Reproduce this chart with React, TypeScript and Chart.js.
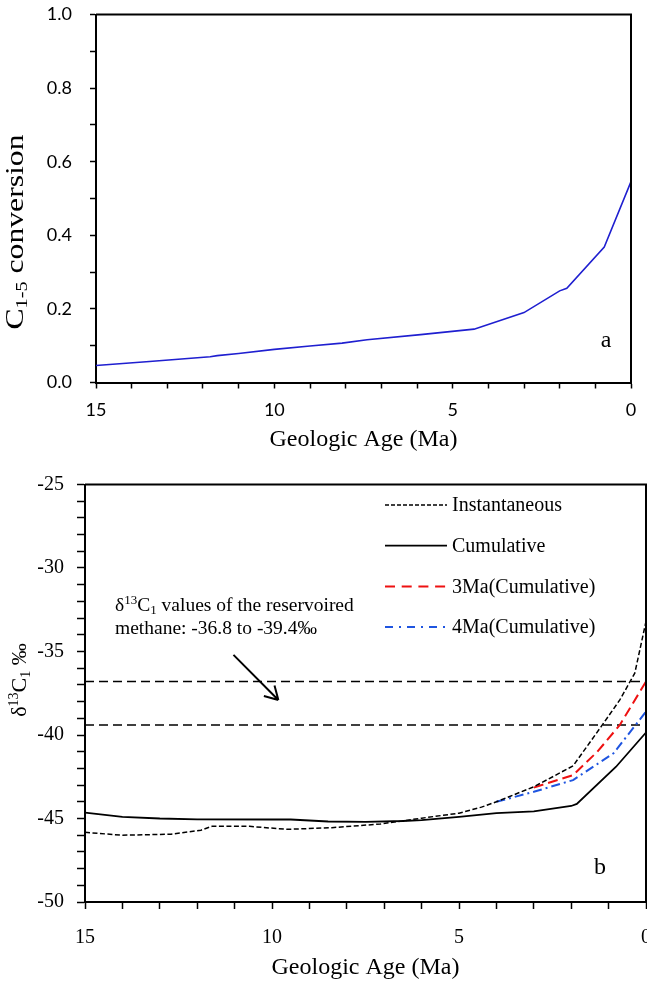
import React, { useEffect, useRef } from 'react';
import { Chart, registerables } from 'chart.js';

Chart.register(...registerables);

const SERIF = '"Liberation Serif", "Times New Roman", Times, serif';
const SANS = 'Lato, "Open Sans", sans-serif';

// ---------- Panel a : C1-5 conversion ----------
const topAges = [15, 13.5, 11.8, 11.6, 11, 10, 9, 8.1, 7.4, 5.9, 4.4, 3.0, 2.0, 1.8, 0.75, 0];
const topConversion = [0.046, 0.057, 0.070, 0.073, 0.079, 0.090, 0.099, 0.107, 0.116, 0.130, 0.145, 0.190, 0.249, 0.256, 0.368, 0.546];

// ---------- Panel b : delta13C1 ----------
const instAges = [15, 14, 12.7, 11.9, 11.6, 10.6, 9.6, 8.4, 7.1, 6.0, 5.0, 4.4, 4.0, 3.0, 1.95, 1.2, 0.7, 0.3, 0];
const instDelta = [-45.83, -46.0, -45.94, -45.7, -45.46, -45.47, -45.65, -45.55, -45.33, -44.98, -44.68, -44.32, -44.0, -43.1, -41.85, -39.5, -37.9, -36.3, -33.2];

const cumAges = [15, 14, 13, 12, 10, 9.5, 8.5, 7.5, 6.5, 6.0, 5.0, 4.0, 3.0, 2.0, 1.85, 0.8, 0];
const cumDelta = [-44.65, -44.9, -45.0, -45.05, -45.06, -45.06, -45.18, -45.2, -45.15, -45.1, -44.9, -44.68, -44.57, -44.25, -44.13, -41.9, -39.85];

const ma3Ages = [3.0, 1.95, 1.3, 0.7, 0];
const ma3Delta = [-43.15, -42.4, -41.0, -39.4, -36.8];

const ma4Ages = [4.0, 3.0, 1.95, 0.87, 0];
const ma4Delta = [-44.0, -43.4, -42.7, -41.1, -38.6];

const reservoirRange = [-36.8, -39.4];
const ageRange = [15, 0];

const legendLabels = ['Instantaneous', 'Cumulative', '3Ma(Cumulative)', '4Ma(Cumulative)'];
const annotationLine2 = 'methane: -36.8 to -39.4‰';
const arrowFrom = [11.03, -35.2];
const arrowTo = [9.83, -37.9];

// ---------- styles ----------
const lineStyles = [
  { color: '#000000', width: 1.5, dash: [5, 2.5], legendDash: [4, 2] },
  { color: '#000000', width: 1.8, dash: [], legendDash: [] },
  { color: '#ee1111', width: 2, dash: [10, 5], legendDash: [10, 6.7] },
  { color: '#1f55e0', width: 2, dash: [9, 4, 2, 4], legendDash: [8, 6, 2, 6] },
];

type Seg = [string, 'n' | 'sup' | 'sub'];

function segFont(size: number, k: string) {
  return `${k === 'n' ? size : Math.round(size * 0.65)}px ${SERIF}`;
}
function richWidth(ctx: CanvasRenderingContext2D, segs: Seg[], size: number) {
  let w = 0;
  for (const [t, k] of segs) {
    ctx.font = segFont(size, k);
    w += ctx.measureText(t).width;
  }
  return w;
}
function drawRich(ctx: CanvasRenderingContext2D, segs: Seg[], x: number, y: number, size: number) {
  let cx = x;
  ctx.textAlign = 'left';
  ctx.textBaseline = 'alphabetic';
  for (const [t, k] of segs) {
    ctx.font = segFont(size, k);
    const dy = k === 'sup' ? -size * 0.38 : k === 'sub' ? size * 0.17 : 0;
    ctx.fillText(t, cx, y + dy);
    cx += ctx.measureText(t).width;
  }
}

const pts = (xs: number[], ys: number[]) => xs.map((x, i) => ({ x, y: ys[i] }));

function ageAxis(font: any, tickLength: number, padding: number, height: number, titlePad: number) {
  return {
    type: 'linear',
    min: ageRange[1],
    max: ageRange[0],
    reverse: true,
    ticks: {
      stepSize: 1,
      autoSkip: false,
      maxRotation: 0,
      padding,
      color: '#000',
      font,
      callback: (v: any) => (Number(v) % 5 === 0 ? String(v) : ''),
    },
    grid: { drawOnChartArea: false, drawTicks: true, tickLength, tickColor: '#000', tickWidth: 1.5, color: '#000' },
    border: { display: true, color: '#000', width: 2 },
    title: {
      display: true,
      text: 'Geologic Age (Ma)',
      color: '#000',
      font: { family: SERIF, size: 24, lineHeight: 1 },
      padding: { top: 0, bottom: titlePad },
    },
    afterFit: (s: any) => {
      s.height = height;
      s.paddingLeft = 0;
      s.paddingRight = 0;
    },
  };
}

const topDecor = {
  id: 'topDecor',
  afterDraw(chart: any) {
    const { ctx, chartArea: ca } = chart;
    ctx.save();
    ctx.strokeStyle = '#000';
    ctx.lineWidth = 2;
    ctx.beginPath();
    ctx.moveTo(ca.left, ca.top);
    ctx.lineTo(ca.right, ca.top);
    ctx.lineTo(ca.right, ca.bottom);
    ctx.stroke();

    ctx.fillStyle = '#000';
    ctx.font = `24px ${SERIF}`;
    ctx.textAlign = 'center';
    ctx.textBaseline = 'alphabetic';
    ctx.fillText('a', ca.right - 25, ca.bottom - 36);

    const segs: Seg[] = [['C', 'n'], ['1-5', 'sub'], [' conversion', 'n']];
    const w = richWidth(ctx, segs, 25);
    const stretch = 195 / w;
    ctx.translate(23, 232);
    ctx.rotate(-Math.PI / 2);
    ctx.scale(stretch, 1);
    drawRich(ctx, segs, -w / 2, 0, 25);
    ctx.restore();
  },
};

const bottomDecor = {
  id: 'bottomDecor',
  afterDraw(chart: any) {
    const { ctx, chartArea: ca, scales } = chart;
    const xs = scales.x;
    const ys = scales.y;
    ctx.save();
    ctx.strokeStyle = '#000';
    ctx.lineWidth = 2;
    ctx.beginPath();
    ctx.moveTo(ca.left, ca.top);
    ctx.lineTo(ca.right, ca.top);
    ctx.lineTo(ca.right, ca.bottom);
    ctx.stroke();

    // legend
    legendLabels.forEach((label, i) => {
      const st = lineStyles[i];
      const y = ca.top + 20.5 + i * 40.7;
      const x0 = ca.left + 300;
      ctx.save();
      ctx.strokeStyle = st.color;
      ctx.lineWidth = st.width;
      ctx.setLineDash(st.legendDash);
      ctx.beginPath();
      ctx.moveTo(x0, y);
      ctx.lineTo(x0 + 62, y);
      ctx.stroke();
      ctx.restore();
      ctx.fillStyle = '#000';
      ctx.font = `20px ${SERIF}`;
      ctx.textAlign = 'left';
      ctx.textBaseline = 'middle';
      ctx.fillText(label, x0 + 67, y + 1);
    });

    // annotation
    ctx.fillStyle = '#000';
    const line1: Seg[] = [['δ', 'n'], ['13', 'sup'], ['C', 'n'], ['1', 'sub'], [' values of the reservoired', 'n']];
    drawRich(ctx, line1, ca.left + 30, ca.top + 126.5, 19.5);
    drawRich(ctx, [[annotationLine2, 'n']], ca.left + 30, ca.top + 149.5, 19.5);

    // arrow
    const x1 = xs.getPixelForValue(arrowFrom[0]);
    const y1 = ys.getPixelForValue(arrowFrom[1]);
    const x2 = xs.getPixelForValue(arrowTo[0]);
    const y2 = ys.getPixelForValue(arrowTo[1]);
    const ang = Math.atan2(y2 - y1, x2 - x1);
    ctx.strokeStyle = '#000';
    ctx.lineWidth = 2;
    ctx.setLineDash([]);
    ctx.beginPath();
    ctx.moveTo(x1, y1);
    ctx.lineTo(x2, y2);
    const L = 15;
    for (const s of [-1, 1]) {
      const a = ang + Math.PI + s * (Math.PI / 6);
      ctx.moveTo(x2, y2);
      ctx.lineTo(x2 + L * Math.cos(a), y2 + L * Math.sin(a));
    }
    ctx.stroke();

    // panel letter
    ctx.font = `24px ${SERIF}`;
    ctx.textAlign = 'center';
    ctx.textBaseline = 'alphabetic';
    ctx.fillText('b', ca.right - 46, ca.bottom - 28);

    // y title
    const segs: Seg[] = [['δ', 'n'], ['13', 'sup'], ['C', 'n'], ['1', 'sub'], [' ‰', 'n']];
    const w = richWidth(ctx, segs, 22);
    ctx.translate(26, 220);
    ctx.rotate(-Math.PI / 2);
    drawRich(ctx, segs, -w / 2, 0, 22);
    ctx.restore();
  },
};

function TopChart() {
  const ref = useRef<HTMLCanvasElement>(null);
  useEffect(() => {
    const chart = new Chart(ref.current as HTMLCanvasElement, {
      type: 'line',
      data: {
        datasets: [
          {
            label: 'C1-5 conversion',
            data: pts(topAges, topConversion),
            borderColor: '#1f1fd0',
            borderWidth: 1.6,
            pointRadius: 0,
            tension: 0,
            fill: false,
          },
        ],
      },
      options: {
        responsive: false,
        animation: false,
        devicePixelRatio: 1,
        layout: { padding: { top: 14.5, right: 16, left: 0, bottom: 0 } },
        plugins: { legend: { display: false }, tooltip: { enabled: false } },
        scales: {
          x: ageAxis({ family: SANS, size: 18 }, 6, 10.7, 77.5, 8) as any,
          y: {
            type: 'linear',
            min: 0,
            max: 1,
            ticks: {
              stepSize: 0.1,
              autoSkip: false,
              padding: 18,
              color: '#000',
              font: { family: SANS, size: 18 },
              callback: (v: any) => {
                const n = Math.round(Number(v) * 10);
                return n % 2 === 0 ? (n / 10).toFixed(1) : '';
              },
            },
            grid: { drawOnChartArea: false, drawTicks: true, tickLength: 6, tickColor: '#000', tickWidth: 1.5, color: '#000' },
            border: { display: true, color: '#000', width: 2 },
            afterFit: (s: any) => {
              s.width = 96;
              s.paddingTop = 0;
              s.paddingBottom = 0;
            },
          } as any,
        },
      },
      plugins: [topDecor],
    });
    return () => chart.destroy();
  }, []);
  return <canvas ref={ref} width={647} height={460} style={{ display: 'block', width: 647, height: 460 }} />;
}

function BottomChart() {
  const ref = useRef<HTMLCanvasElement>(null);
  useEffect(() => {
    const series = [
      pts(instAges, instDelta),
      pts(cumAges, cumDelta),
      pts(ma3Ages, ma3Delta),
      pts(ma4Ages, ma4Delta),
    ];
    const datasets: any[] = series.map((d, i) => ({
      label: legendLabels[i],
      data: d,
      borderColor: lineStyles[i].color,
      borderWidth: lineStyles[i].width,
      borderDash: lineStyles[i].dash,
      pointRadius: 0,
      tension: 0,
      fill: false,
    }));
    reservoirRange.forEach((v) => {
      datasets.push({
        label: `reservoir ${v}`,
        data: pts(ageRange, [v, v]),
        borderColor: '#000',
        borderWidth: 1.5,
        borderDash: [9, 5],
        pointRadius: 0,
        fill: false,
      });
    });
    const chart = new Chart(ref.current as HTMLCanvasElement, {
      type: 'line',
      data: { datasets },
      options: {
        responsive: false,
        animation: false,
        devicePixelRatio: 1,
        layout: { padding: { top: 24.5, right: 1, left: 0, bottom: 0 } },
        plugins: { legend: { display: false }, tooltip: { enabled: false } },
        scales: {
          x: ageAxis({ family: SERIF, size: 20 }, 7, 17, 79, 1) as any,
          y: {
            type: 'linear',
            min: -50,
            max: -25,
            ticks: {
              stepSize: 1,
              autoSkip: false,
              padding: 13,
              color: '#000',
              font: { family: SERIF, size: 20 },
              callback: (v: any) => {
                const n = Math.round(Number(v));
                return n % 5 === 0 ? String(n) : '';
              },
            },
            grid: { drawOnChartArea: false, drawTicks: true, tickLength: 8, tickColor: '#000', tickWidth: 1.5, color: '#000' },
            border: { display: true, color: '#000', width: 2 },
            afterFit: (s: any) => {
              s.width = 85;
              s.paddingTop = 0;
              s.paddingBottom = 0;
            },
          } as any,
        },
      },
      plugins: [bottomDecor],
    });
    return () => chart.destroy();
  }, []);
  return <canvas ref={ref} width={647} height={521} style={{ display: 'block', width: 647, height: 521 }} />;
}

export default function App() {
  return (
    <div style={{ position: 'absolute', left: 0, top: 0, width: 647, height: 981, background: '#fff' }}>
      <TopChart />
      <BottomChart />
    </div>
  );
}
